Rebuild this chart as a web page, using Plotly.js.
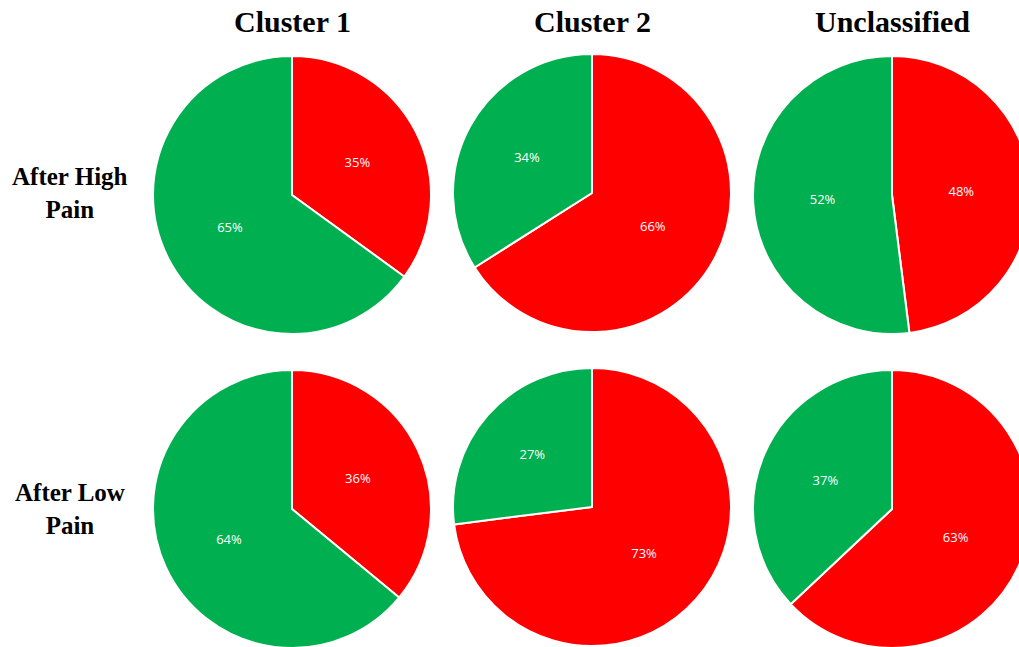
<!DOCTYPE html>
<html>
<head>
<meta charset="utf-8">
<script src="https://cdn.plot.ly/plotly-3.0.1.min.js"></script>
<style>
  html, body { margin: 0; padding: 0; overflow: hidden; background: #fff; }
  #chart { width: 1040px; height: 660px; }
</style>
</head>
<body>
<div id="chart"></div>
<script>
// ---- data ----
const columnTitles = ['Cluster 1', 'Cluster 2', 'Unclassified'];
const rowTitles = ['After High<br>Pain', 'After Low<br>Pain'];
const sliceLabels = ['Group A', 'Group B'];
const sliceColors = ['#FF0000', '#00B050'];
const redHigh = [35, 66, 48];
const greenHigh = [65, 34, 52];
const redLow = [36, 73, 63];
const greenLow = [64, 27, 37];

// ---- layout geometry (pixels on a 1040x660 canvas) ----
const W = 1040, H = 660, R = 139;
const colCenters = [292, 592, 892];
const rowCenters = [[195, 193, 195], [509, 507, 509]];
const titleY = 22;
const rowLabelX = 70;
const rowLabelY = [193, 509];

const seriesRows = [[redHigh, greenHigh], [redLow, greenLow]];
const traces = [];
for (let r = 0; r < 2; r++) {
  for (let c = 0; c < 3; c++) {
    const cx = colCenters[c], cy = rowCenters[r][c];
    traces.push({
      type: 'pie',
      labels: sliceLabels,
      values: [seriesRows[r][0][c], seriesRows[r][1][c]],
      sort: false,
      direction: 'clockwise',
      rotation: 0,
      marker: { colors: sliceColors, line: { color: '#ffffff', width: 2 } },
      textinfo: 'percent',
      textposition: 'inside',
      insidetextorientation: 'horizontal',
      textfont: { color: '#ffffff', size: 13, family: 'Open Sans, sans-serif' },
      hoverinfo: 'label+percent',
      showlegend: false,
      domain: {
        x: [(cx - R) / W, (cx + R) / W],
        y: [1 - (cy + R) / H, 1 - (cy - R) / H]
      }
    });
  }
}

const annotations = [];
columnTitles.forEach((t, c) => {
  annotations.push({
    text: '<b>' + t + '</b>', xref: 'paper', yref: 'paper',
    x: colCenters[c] / W, y: 1 - titleY / H,
    xanchor: 'center', yanchor: 'middle', showarrow: false,
    font: { family: 'Liberation Serif, Times New Roman, serif', size: 30, color: '#000' }
  });
});
rowTitles.forEach((t, r) => {
  annotations.push({
    text: '<b>' + t + '</b>', xref: 'paper', yref: 'paper',
    x: rowLabelX / W, y: 1 - rowLabelY[r] / H,
    xanchor: 'center', yanchor: 'middle', showarrow: false, align: 'center',
    font: { family: 'Liberation Serif, Times New Roman, serif', size: 25, color: '#000' }
  });
});

Plotly.newPlot('chart', traces, {
  width: W, height: H,
  margin: { l: 0, r: 0, t: 0, b: 0 },
  paper_bgcolor: '#ffffff',
  plot_bgcolor: '#ffffff',
  annotations: annotations
}, { displayModeBar: false, staticPlot: true });
</script>
</body>
</html>
